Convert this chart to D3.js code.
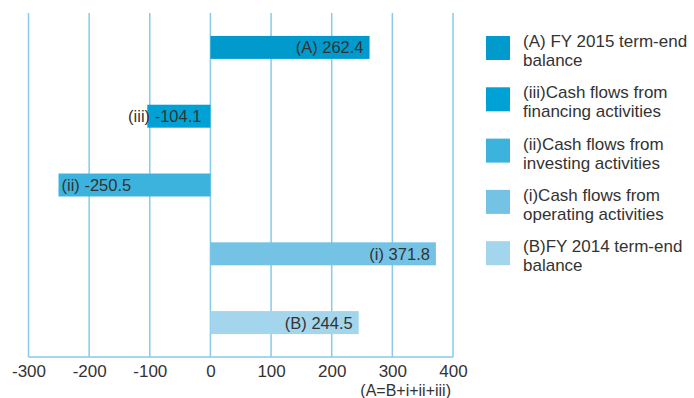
<!DOCTYPE html>
<html><head><meta charset="utf-8">
<script src="https://cdn.jsdelivr.net/npm/d3@7"></script>
<style>body{margin:0;background:#fff}svg{display:block}text{font-family:"Liberation Sans",Arial,Helvetica,sans-serif;fill:#333}</style>
</head><body>
<svg id="c" width="694" height="398"></svg>
<script>
const categories = ["A", "iii", "ii", "i", "B"];
const values = [262.4, -104.1, -250.5, 371.8, 244.5];
const barLabels = ["(A) 262.4", "(iii) -104.1", "(ii) -250.5", "(i) 371.8", "(B) 244.5"];
const colors = ["#009bcc", "#00a2d5", "#3cb3dc", "#74c2e4", "#a3d5ec"];
const legendLabels = [
  ["(A) FY 2015 term-end", "balance"],
  ["(iii)Cash flows from", "financing activities"],
  ["(ii)Cash flows from", "investing activities"],
  ["(i)Cash flows from", "operating activities"],
  ["(B)FY 2014 term-end", "balance"]
];
const tickValues = [-300, -200, -100, 0, 100, 200, 300, 400];
const note = "(A=B+i+ii+iii)";

const svg = d3.select("#c");
const x = d3.scaleLinear().domain([-300, 400]).range([28.5, 453]);
const y = d3.scaleBand().domain(categories).range([13, 357]).paddingInner(0.666).paddingOuter(0.333);
const grid = "#86cbea";

// grid lines
svg.append("g").selectAll("line").data(tickValues).join("line")
  .attr("x1", d => x(d)).attr("x2", d => x(d))
  .attr("y1", 13).attr("y2", 357)
  .attr("stroke", grid).attr("stroke-width", 1.5);
svg.append("line").attr("x1", x(-300)).attr("x2", x(400)).attr("y1", 357).attr("y2", 357)
  .attr("stroke", grid).attr("stroke-width", 1.5);

// bars
svg.append("g").selectAll("rect").data(categories).join("rect")
  .attr("x", (d, i) => x(Math.min(0, values[i])))
  .attr("width", (d, i) => Math.abs(x(values[i]) - x(0)))
  .attr("y", d => y(d)).attr("height", y.bandwidth())
  .attr("fill", (d, i) => colors[i]);

// bar labels
svg.append("g").selectAll("text").data(categories).join("text")
  .attr("x", (d, i) => {
    const v = values[i];
    if (v >= 0) return x(v) - 6;
    if (x(0) - x(v) > 120) return x(v) + 3;
    return x(0) - 9;
  })
  .attr("text-anchor", (d, i) => (values[i] < 0 && x(0) - x(values[i]) > 120) ? "start" : "end")
  .attr("y", d => y(d) + y.bandwidth() / 2 + 6)
  .attr("font-size", "16.5px")
  .text((d, i) => barLabels[i]);

// axis
const axis = d3.axisBottom(x).tickValues(tickValues).tickSize(0).tickPadding(0).tickFormat(d => String(d));
const ag = svg.append("g").attr("transform", "translate(0,357)").call(axis);
ag.select(".domain").remove();
ag.selectAll("text").attr("font-size", "17px").attr("dy", null).attr("y", 19.5)
  .style("font-family", '"Liberation Sans",Arial,sans-serif').attr("fill", "#333");

svg.append("text").attr("x", 451).attr("y", 396).attr("text-anchor", "end")
  .attr("font-size", "16px").text(note);

// legend
const lg = svg.append("g").selectAll("g").data(legendLabels).join("g")
  .attr("transform", (d, i) => `translate(486,${36 + i * 51.3})`);
lg.append("rect").attr("width", 24).attr("height", 24).attr("fill", (d, i) => colors[i]);
lg.append("text").attr("x", 37).attr("y", 11).attr("font-size", "17px").text(d => d[0]);
lg.append("text").attr("x", 37).attr("y", 30).attr("font-size", "17px").text(d => d[1]);
</script>
</body></html>
